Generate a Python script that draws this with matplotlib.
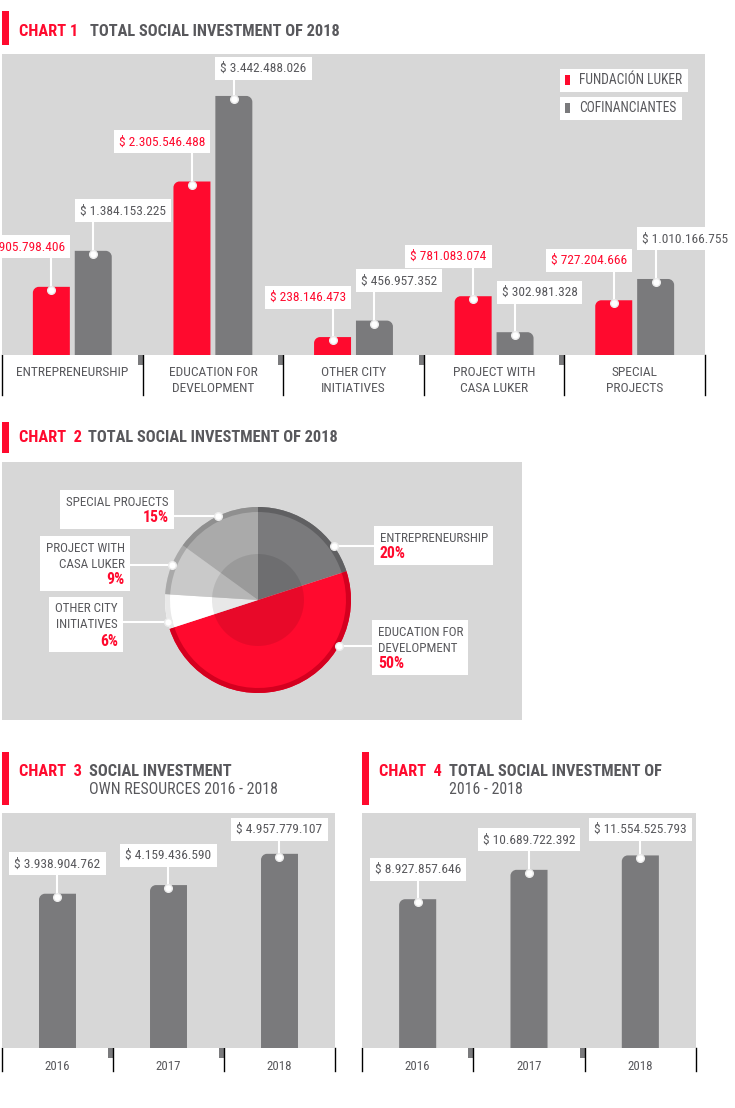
import numpy as np
import matplotlib
matplotlib.use('Agg')
import matplotlib.pyplot as plt
from matplotlib.patches import Rectangle, PathPatch, Circle
from matplotlib.path import Path
from matplotlib import font_manager

W, H = 735, 1108
RED = '#ff0a2e'
GREY = '#7a7a7c'
PANEL = '#d7d7d7'
TXT = '#58585c'

# chart 1 data
cats1 = ['ENTREPRENEURSHIP', 'EDUCATION FOR\nDEVELOPMENT', 'OTHER CITY\nINITIATIVES',
         'PROJECT WITH\nCASA LUKER', 'SPECIAL\nPROJECTS']
luker = [905798406, 2305546488, 238146473, 781083074, 727204666]
cofin = [1384153225, 3442488026, 456957352, 302981328, 1010166755]
legend1 = ['FUNDACIÓN LUKER', 'COFINANCIANTES']

# chart 2 data
pie_names = ['ENTREPRENEURSHIP', 'EDUCATION FOR\nDEVELOPMENT', 'OTHER CITY\nINITIATIVES',
             'PROJECT WITH\nCASA LUKER', 'SPECIAL PROJECTS']
pie_pct = [20, 50, 6, 9, 15]

# chart 3 / 4 data
years = ['2016', '2017', '2018']
own = [3938904762, 4159436590, 4957779107]
total = [8927857646, 10689722392, 11554525793]

# pick a narrow face if there is one, otherwise a plain sans
ttf = font_manager.fontManager.ttflist
names = {f.name for f in ttf}
COND, STRETCH = None, 'normal'
for c in ['Liberation Sans Narrow', 'Roboto Condensed', 'Open Sans Condensed',
          'Noto Sans Condensed', 'DejaVu Sans Condensed', 'Arial Narrow']:
    if c in names:
        COND = c
        break
if COND is None:
    for fam in ['Roboto', 'Noto Sans', 'Open Sans', 'DejaVu Sans', 'Lato', 'Inter']:
        if any(f.name == fam and 'condensed' in str(f.stretch) for f in ttf):
            COND, STRETCH = fam, 'condensed'
            break
if COND is None:
    COND = 'Roboto' if 'Roboto' in names else 'DejaVu Sans'


def money(v):
    return '$ ' + format(v, ',').replace(',', '.')


fig = plt.figure(figsize=(W / 100, H / 100), dpi=100)
bg = fig.add_axes([0, 0, 1, 1])
bg.set_xlim(0, W); bg.set_ylim(H, 0); bg.axis('off')
fg = fig.add_axes([0, 0, 1, 1])
fg.set_xlim(0, W); fg.set_ylim(H, 0); fg.axis('off')
fg.set_zorder(5)
renderer = fig.canvas.get_renderer()


def txt(ax, x, y, s, color=TXT, ha='left', size=10, weight='normal', z=6):
    return ax.text(x, y, s, color=color, ha=ha, va='center', fontsize=size,
                   fontweight=weight, family=COND, fontstretch=STRETCH, zorder=z)


def fit(s, target, weight='normal'):
    # font size that gives the reference's text width
    t = txt(fg, 0, 0, s, size=10, weight=weight)
    w = t.get_window_extent(renderer).width
    t.remove()
    return min(10 * target / w, 12)


S_VAL = fit('$ 3.442.488.026', 86)
S_CAT = fit('ENTREPRENEURSHIP', 113)
S_TB = fit('TOTAL SOCIAL INVESTMENT OF 2018', 250, 'bold')
S_TR = fit('OWN RESOURCES 2016 - 2018', 188)
S_PIE = fit('ENTREPRENEURSHIP', 109)
S_PCT = fit('20%', 26, 'bold')
S_LEG = fit('FUNDACIÓN LUKER', 104)
S_YR = fit('2016', 25)


def panel(x0, y0, x1, y1):
    ax = fig.add_axes([x0 / W, 1 - y1 / H, (x1 - x0) / W, (y1 - y0) / H])
    ax.set_facecolor(PANEL)
    for s in ax.spines.values():
        s.set_visible(False)
    ax.set_xticks([]); ax.set_yticks([])
    return ax


def to_px(ax, x, y):
    dx, dy = ax.transData.transform((x, y))
    return dx, H - dy


def round_bar(ax, rect, side, r=6):
    x0, y0 = rect.get_x(), rect.get_y()
    x1, y1 = x0 + rect.get_width(), y0 + rect.get_height()
    xl, yl = ax.get_xlim(), ax.get_ylim()
    rx = r * (xl[1] - xl[0]) / ax.bbox.width
    ry = r * (yl[1] - yl[0]) / ax.bbox.height
    k = 0.5523
    if side == 'left':
        verts = [(x1, y0), (x0, y0), (x0, y1 - ry), (x0, y1 - ry + k * ry),
                 (x0 + rx - k * rx, y1), (x0 + rx, y1), (x1, y1), (x1, y0)]
    else:
        verts = [(x0, y0), (x0, y1), (x1 - rx, y1), (x1 - rx + k * rx, y1),
                 (x1, y1 - ry + k * ry), (x1, y1 - ry), (x1, y0), (x0, y0)]
    codes = [Path.MOVETO, Path.LINETO, Path.LINETO, Path.CURVE4, Path.CURVE4,
             Path.CURVE4, Path.LINETO, Path.CLOSEPOLY]
    rect.set_visible(False)
    ax.add_patch(PathPatch(Path(verts, codes), fc=rect.get_facecolor(), ec='none'))


def value_label(ax, xc, v, s, color, ha, tx, gap, top):
    px, py = to_px(ax, xc, v)
    cy = max(py - gap, top)
    t = txt(fg, tx(px), cy + 0.5, s, color=color, ha=ha, size=S_VAL)
    bb = t.get_window_extent(renderer)
    fg.add_patch(Rectangle((bb.x0 - 5, cy - 11.5), bb.width + 10, 23,
                           fc='white', ec='none', zorder=4))
    fg.plot([px, px], [py + 2, cy + 11.5], color='white', lw=1.5, zorder=3)
    fg.plot(px, py + 3, 'o', ms=5.5, color='white', mec='#ececec', zorder=4)


def title(x, y0, y1, num, lines, tx, ly):
    bg.add_patch(Rectangle((x, y0), 7, y1 - y0, color=RED, lw=0))
    txt(bg, x + 17, ly, num, color=RED, size=S_TB, weight='bold')
    for i, (s, w) in enumerate(lines):
        txt(bg, tx, ly + 18 * i, s, size=S_TB if w == 'bold' else S_TR, weight=w)


def axis_base(ax, n, y0, y1):
    for b in np.arange(-0.5, n):
        bx = to_px(ax, b, 0)[0]
        bg.plot([bx, bx], [y0, y1], color='black', lw=1)
        if 0 < b < n - 1:
            bg.add_patch(Rectangle((bx - 5, y0), 5, 10, color=GREY, lw=0))


# ---------------- chart 1 ----------------
title(2, 11, 45, 'CHART 1', [('TOTAL SOCIAL INVESTMENT OF 2018', 'bold')], 90, 31)
ax1 = panel(2, 54, 705, 355)
ax1.set_xlim(-0.5, 4.5); ax1.set_ylim(0, 4.0e9)
x = np.arange(len(cats1))
bw, off = 0.263, 0.149
br = ax1.bar(x - off, luker, bw, color=RED)
bgr = ax1.bar(x + off, cofin, bw, color=GREY)
for r in br:
    round_bar(ax1, r, 'left')
for r in bgr:
    round_bar(ax1, r, 'right')
for i in range(len(cats1)):
    right = to_px(ax1, x[i] - off + bw / 2, 0)[0]
    left = to_px(ax1, x[i] + off - bw / 2, 0)[0]
    value_label(ax1, x[i] - off, luker[i], money(luker[i]), RED, 'right',
                lambda p, e=right: e - 5, 40, 68)
    value_label(ax1, x[i] + off, cofin[i], money(cofin[i]), TXT, 'left',
                lambda p, e=left: e + 5, 40, 68)
    cx = to_px(ax1, x[i], 0)[0]
    for j, line in enumerate(cats1[i].split('\n')):
        txt(bg, cx, 373 + 16 * j, line, ha='center', size=S_CAT)
axis_base(ax1, len(cats1), 355, 395)

for lab, col, y in zip(legend1, [RED, GREY], [80, 108]):
    t = txt(fg, 579, y + 0.5, lab, size=S_LEG)
    bb = t.get_window_extent(renderer)
    fg.add_patch(Rectangle((560, y - 11.5), bb.x1 - 560 + 6, 23, fc='white', ec='none', zorder=4))
    fg.add_patch(Rectangle((565, y - 5), 5, 10, color=col, lw=0, zorder=5))

# ---------------- chart 2 ----------------
title(2, 422, 453, 'CHART  2', [('TOTAL SOCIAL INVESTMENT OF 2018', 'bold')], 88, 438)
panel(2, 462, 522, 720)
pc = (258, 600)
ax2 = fig.add_axes([(pc[0] - 100) / W, 1 - (pc[1] + 100) / H, 200 / W, 200 / H])
pie_cols = ['#7a7a7c', RED, 'white', '#c9c9c9', '#aaaaaa']
ring_cols = ['#606062', '#d4001f', '#e9e9e9', '#a9a9a9', '#8f8f8f']
R = 0.93
ax2.pie(pie_pct, colors=pie_cols, startangle=90, counterclock=False, radius=R,
        wedgeprops=dict(linewidth=0))
ax2.pie(pie_pct, colors=ring_cols, startangle=90, counterclock=False, radius=R,
        wedgeprops=dict(width=0.05, linewidth=0))
ax2.add_patch(Circle((0, 0), 0.46, color='black', alpha=0.09, lw=0))
ax2.set_xlim(-1, 1); ax2.set_ylim(-1, 1); ax2.set_aspect('equal')
ax2.axis('off')

# label layout: text edge x, first line y, alignment, leader y
pie_layout = [(380, 538, 'left', 546), (378, 632, 'left', 646), (118, 609, 'right', 622),
              (125, 548, 'right', 565), (169, 502, 'right', 516)]
cpx, cpy = to_px(ax2, 0, 0)
rpx = R * ax2.bbox.width / 2
for name, pct, (lx, ly, ha, leader) in zip(pie_names, pie_pct, pie_layout):
    lines = name.split('\n')
    ts = [txt(fg, lx, ly + 16 * j, s, ha=ha, size=S_PIE) for j, s in enumerate(lines)]
    ts.append(txt(fg, lx, ly + 16 * len(lines), f'{pct}%', color=RED, ha=ha,
                  size=S_PCT, weight='bold'))
    bbs = [t.get_window_extent(renderer) for t in ts]
    x0 = min(b.x0 for b in bbs) - 6
    x1 = max(b.x1 for b in bbs) + 5
    y0, y1 = ly - 12, ly + 16 * len(lines) + 11
    fg.add_patch(Rectangle((x0, y0), x1 - x0, y1 - y0, fc='white', ec='none', zorder=4))
    dx = np.sqrt(max(rpx ** 2 - (leader - cpy) ** 2, 0))
    if ha == 'left':
        dot = cpx + dx
        fg.plot([dot, x0], [leader, leader], color='white', lw=1.5, zorder=3)
    else:
        dot = cpx - dx
        fg.plot([x1, dot], [leader, leader], color='white', lw=1.5, zorder=3)
    fg.plot(dot, leader, 'o', ms=5.5, color='white', mec='#ececec', zorder=4)

# ---------------- chart 3 & 4 ----------------
title(2, 752, 805, 'CHART  3', [('SOCIAL INVESTMENT', 'bold'),
                                ('OWN RESOURCES 2016 - 2018', 'normal')], 89, 771)
title(362, 752, 805, 'CHART  4', [('TOTAL SOCIAL INVESTMENT OF', 'bold'),
                                  ('2016 - 2018', 'normal')], 449, 771)

for (x0, x1), vals, ytop in [((2, 335), own, 6.0e9), ((362, 696), total, 14.1e9)]:
    ax = panel(x0, 813, x1, 1048)
    ax.set_xlim(-0.5, 2.5); ax.set_ylim(0, ytop)
    xs = np.arange(len(years))
    bars = ax.bar(xs, vals, 0.333, color=GREY)
    for r in bars:
        round_bar(ax, r, 'left')
    for i in range(len(years)):
        value_label(ax, xs[i], vals[i], money(vals[i]), TXT, 'center',
                    lambda p: p, 30, 829)
        txt(bg, to_px(ax, xs[i], 0)[0], 1066, years[i], ha='center', size=S_YR)
    axis_base(ax, len(years), 1048, 1071)

fig.savefig('out.png', dpi=100, facecolor='white')
